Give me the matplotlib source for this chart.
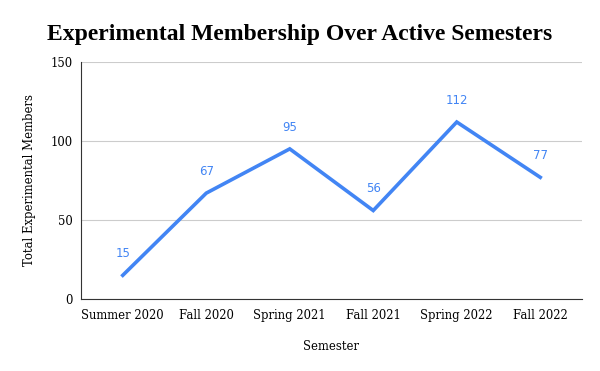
import matplotlib
matplotlib.use("Agg")
import matplotlib.pyplot as plt

semesters = ["Summer 2020", "Fall 2020", "Spring 2021", "Fall 2021", "Spring 2022", "Fall 2022"]
members = [15, 67, 95, 56, 112, 77]
yticks = [0, 50, 100, 150]

fig = plt.figure(figsize=(6, 3.71), dpi=100)
ax = fig.add_axes([0.135, 0.194, 0.835, 0.639])
x = list(range(len(semesters)))
ax.plot(x, members, color="#4285F4", linewidth=2.6, solid_joinstyle="miter")
for xi, v in zip(x, members):
    ax.annotate(str(v), (xi, v), xytext=(0, 11), textcoords="offset points",
                ha="center", va="bottom", color="#4285F4", fontsize=8.5,
                family="DejaVu Sans")
ax.set_xlim(-0.5, len(semesters) - 0.5)
ax.set_ylim(0, 150)
ax.set_yticks(yticks)
ax.set_xticks(x)
ax.set_xticklabels(semesters, family="DejaVu Serif", fontsize=8.4)
ax.set_yticklabels([str(t) for t in yticks], family="DejaVu Serif", fontsize=8.4)
ax.tick_params(axis="x", length=0, pad=7)
ax.tick_params(axis="y", length=0, pad=6)
ax.grid(axis="y", color="#cccccc", linewidth=0.8)
ax.set_axisbelow(True)
for s in ["top", "right"]:
    ax.spines[s].set_visible(False)
ax.spines["left"].set_color("#333333")
ax.spines["bottom"].set_color("#333333")
ax.set_xlabel("Semester", family="DejaVu Serif", fontsize=8.4, labelpad=13)
ax.set_ylabel("Total Experimental Members", family="DejaVu Serif", fontsize=8.4, labelpad=10.5)
fig.text(0.5, 0.908, "Experimental Membership Over Active Semesters",
         ha="center", va="center", family="Liberation Serif", fontweight="bold",
         fontsize=17)
fig.savefig("out.png", dpi=100)
